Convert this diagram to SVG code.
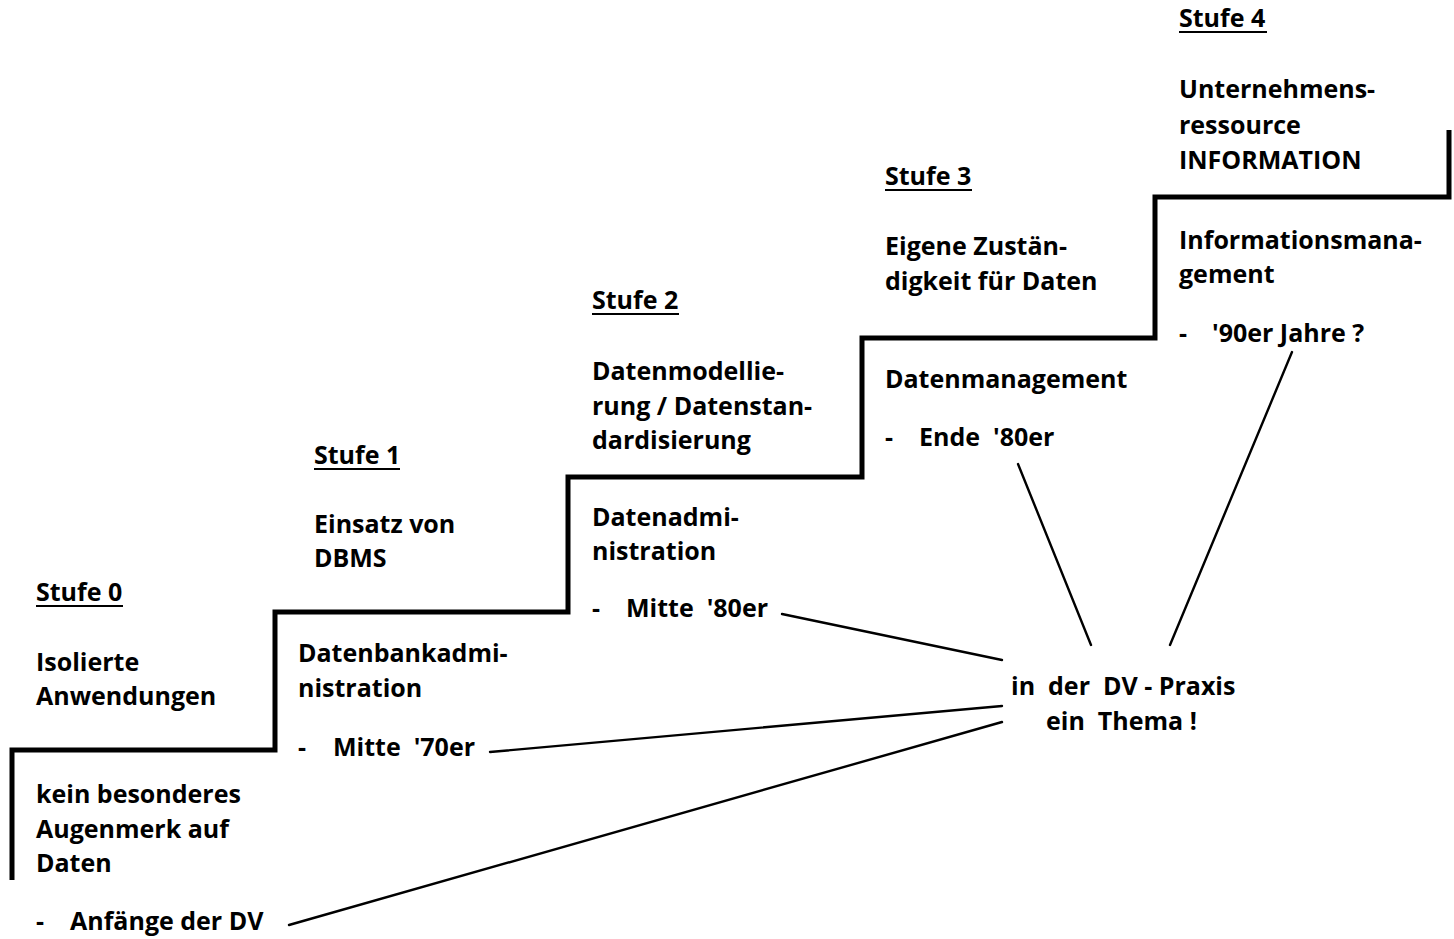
<svg xmlns="http://www.w3.org/2000/svg" width="1454" height="939" viewBox="0 0 1454 939" xml:space="preserve">
  <style>
    text { font-family: "Open Sans", "Liberation Sans", sans-serif; font-weight: bold; font-size: 25px; fill: #000; white-space: pre; }
    .stair { fill: none; stroke: #000; stroke-width: 5; stroke-linejoin: miter; }
    .link { fill: none; stroke: #000; stroke-width: 2.4; stroke-linecap: round; }
    .ul { stroke: #000; stroke-width: 2; }
  </style>
  <rect width="1454" height="939" fill="#fff"/>

  <!-- staircase -->
  <path class="stair" d="M12,880 V750 H275 V612 H568 V477 H862 V338 H1155 V197 H1449 V130"/>

  <!-- connectors from the dates to the central remark -->
  <g id="connectors">
    <line class="link" x1="289" y1="925" x2="1002" y2="722"/>
    <line class="link" x1="490" y1="752" x2="1002" y2="706"/>
    <line class="link" x1="782" y1="614" x2="1002" y2="660"/>
    <line class="link" x1="1018" y1="464" x2="1091" y2="645"/>
    <line class="link" x1="1292" y1="352" x2="1170" y2="645"/>
  </g>

  <g id="stufe0">
    <text x="36" y="601">Stufe 0</text>
    <line class="ul" x1="36" y1="606" x2="123" y2="606"/>
    <text x="36" y="671">Isolierte</text>
    <text x="36" y="705">Anwendungen</text>
    <text x="36" y="803">kein besonderes</text>
    <text x="36" y="838">Augenmerk auf</text>
    <text x="36" y="872">Daten</text>
    <text x="36" y="930">-</text>
    <text x="70" y="930">Anfänge der DV</text>
  </g>

  <g id="stufe1">
    <text x="314" y="464">Stufe 1</text>
    <line class="ul" x1="314" y1="469" x2="400" y2="469"/>
    <text x="314" y="533">Einsatz von</text>
    <text x="314" y="567">DBMS</text>
    <text x="298" y="662">Datenbankadmi-</text>
    <text x="298" y="697">nistration</text>
    <text x="298" y="756">-</text>
    <text x="333" y="756">Mitte  '70er</text>
  </g>

  <g id="stufe2">
    <text x="592" y="309">Stufe 2</text>
    <line class="ul" x1="592" y1="314" x2="679" y2="314"/>
    <text x="592" y="380">Datenmodellie-</text>
    <text x="592" y="415">rung / Datenstan-</text>
    <text x="592" y="449">dardisierung</text>
    <text x="592" y="526">Datenadmi-</text>
    <text x="592" y="560">nistration</text>
    <text x="592" y="617">-</text>
    <text x="626" y="617">Mitte  '80er</text>
  </g>

  <g id="stufe3">
    <text x="885" y="185">Stufe 3</text>
    <line class="ul" x1="885" y1="190" x2="972" y2="190"/>
    <text x="885" y="255">Eigene Zustän-</text>
    <text x="885" y="290">digkeit für Daten</text>
    <text x="885" y="388">Datenmanagement</text>
    <text x="885" y="446">-</text>
    <text x="919" y="446">Ende  '80er</text>
  </g>

  <g id="stufe4">
    <text x="1179" y="27">Stufe 4</text>
    <line class="ul" x1="1179" y1="32" x2="1267" y2="32"/>
    <text x="1179" y="98">Unternehmens-</text>
    <text x="1179" y="134">ressource</text>
    <text x="1179" y="169">INFORMATION</text>
    <text x="1179" y="249">Informationsmana-</text>
    <text x="1179" y="283">gement</text>
    <text x="1179" y="342">-</text>
    <text x="1212" y="342">'90er Jahre ?</text>
  </g>

  <g id="praxis">
    <text x="1011" y="695">in  der  DV - Praxis</text>
    <text x="1046" y="730">ein  Thema !</text>
  </g>
</svg>
